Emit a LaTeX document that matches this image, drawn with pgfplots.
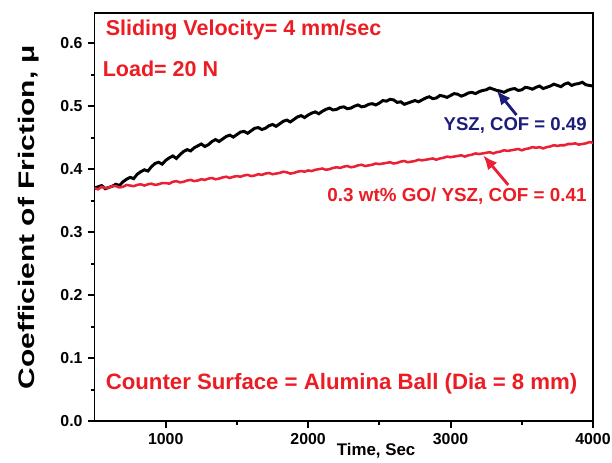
\documentclass[border=0pt]{standalone}
\usepackage{fontspec}
\setmainfont{Liberation Sans}
\usepackage{pgfplots}
\pgfplotsset{compat=1.18}
\usepackage{pgfplotstable}
\usetikzlibrary{arrows.meta}

\definecolor{txtred}{RGB}{236,28,36}
\definecolor{curvered}{RGB}{234,32,52}
\definecolor{navy}{RGB}{28,28,122}

% friction curves, time in s
\pgfplotstableread{
t mu
500 0.370
525 0.372
550 0.374
575 0.369
600 0.371
625 0.373
650 0.376
675 0.374
700 0.380
725 0.384
750 0.387
775 0.385
800 0.392
825 0.396
850 0.399
875 0.397
900 0.404
925 0.409
950 0.411
975 0.408
1000 0.414
1025 0.418
1050 0.421
1075 0.417
1100 0.423
1125 0.428
1150 0.431
1175 0.429
1200 0.434
1225 0.437
1250 0.440
1275 0.436
1300 0.439
1325 0.444
1350 0.447
1375 0.444
1400 0.448
1425 0.452
1450 0.454
1475 0.451
1500 0.455
1525 0.459
1550 0.460
1575 0.457
1600 0.461
1625 0.465
1650 0.466
1675 0.463
1700 0.465
1725 0.469
1750 0.471
1775 0.468
1800 0.472
1825 0.476
1850 0.478
1875 0.475
1900 0.479
1925 0.483
1950 0.485
1975 0.482
2000 0.486
2025 0.489
2050 0.491
2075 0.488
2100 0.492
2125 0.495
2150 0.497
2175 0.494
2200 0.495
2225 0.498
2250 0.499
2275 0.496
2300 0.497
2325 0.500
2350 0.502
2375 0.499
2400 0.500
2425 0.503
2450 0.504
2475 0.502
2500 0.505
2525 0.509
2550 0.508
2575 0.511
2600 0.510
2625 0.506
2650 0.507
2675 0.503
2700 0.505
2725 0.507
2750 0.509
2775 0.507
2800 0.510
2825 0.513
2850 0.515
2875 0.512
2900 0.513
2925 0.517
2950 0.516
2975 0.514
3000 0.517
3025 0.520
3050 0.519
3075 0.516
3100 0.518
3125 0.521
3150 0.522
3175 0.520
3200 0.523
3225 0.525
3250 0.526
3275 0.529
3300 0.527
3325 0.525
3350 0.524
3375 0.522
3400 0.525
3425 0.527
3450 0.528
3475 0.525
3500 0.526
3525 0.530
3550 0.529
3575 0.527
3600 0.530
3625 0.532
3650 0.528
3675 0.530
3700 0.532
3725 0.535
3750 0.533
3775 0.531
3800 0.535
3825 0.537
3850 0.533
3875 0.535
3900 0.536
3925 0.538
3950 0.534
3975 0.533
4000 0.532
}\ysz

\pgfplotstableread{
t mu
500 0.370
525 0.368
550 0.372
575 0.370
600 0.371
625 0.373
650 0.373
675 0.371
700 0.372
725 0.375
750 0.374
775 0.373
800 0.375
825 0.376
850 0.374
875 0.376
900 0.377
925 0.375
950 0.376
975 0.378
1000 0.378
1025 0.377
1050 0.380
1075 0.381
1100 0.379
1125 0.380
1150 0.382
1175 0.383
1200 0.381
1225 0.382
1250 0.384
1275 0.383
1300 0.385
1325 0.386
1350 0.384
1375 0.385
1400 0.387
1425 0.388
1450 0.386
1475 0.388
1500 0.389
1525 0.388
1550 0.390
1575 0.391
1600 0.389
1625 0.390
1650 0.392
1675 0.391
1700 0.393
1725 0.394
1750 0.392
1775 0.393
1800 0.394
1825 0.396
1850 0.395
1875 0.393
1900 0.394
1925 0.396
1950 0.397
1975 0.396
2000 0.398
2025 0.397
2050 0.399
2075 0.400
2100 0.401
2125 0.399
2150 0.400
2175 0.402
2200 0.403
2225 0.402
2250 0.404
2275 0.405
2300 0.403
2325 0.404
2350 0.406
2375 0.407
2400 0.405
2425 0.406
2450 0.407
2475 0.409
2500 0.408
2525 0.409
2550 0.410
2575 0.411
2600 0.409
2625 0.410
2650 0.412
2675 0.413
2700 0.411
2725 0.412
2750 0.413
2775 0.415
2800 0.414
2825 0.415
2850 0.416
2875 0.417
2900 0.415
2925 0.417
2950 0.418
2975 0.420
3000 0.419
3025 0.420
3050 0.421
3075 0.422
3100 0.420
3125 0.422
3150 0.423
3175 0.425
3200 0.424
3225 0.425
3250 0.426
3275 0.427
3300 0.425
3325 0.427
3350 0.428
3375 0.430
3400 0.429
3425 0.430
3450 0.431
3475 0.432
3500 0.430
3525 0.432
3550 0.433
3575 0.435
3600 0.434
3625 0.435
3650 0.433
3675 0.435
3700 0.436
3725 0.438
3750 0.437
3775 0.438
3800 0.438
3825 0.440
3850 0.440
3875 0.441
3900 0.439
3925 0.440
3950 0.441
3975 0.443
4000 0.442
}\goysz

\begin{document}
\begin{tikzpicture}
\begin{axis}[
    name=ax,
    scale only axis,
    width=12.46cm, height=10.2cm,
    xmin=500, xmax=4000,
    ymin=0, ymax=0.648,
    xtick={1000,2000,3000,4000},
    ytick={0,0.1,...,0.6},
    minor x tick num=1,
    minor y tick num=1,
    tick align=outside,
    xtick pos=bottom, ytick pos=left,
    major tick length=0.175cm,
    minor tick length=0.1cm,
    axis line style={line width=1.4pt},
    every tick/.style={black, line width=1.4pt},
    tick label style={font=\fontsize{11.3}{13}\selectfont\bfseries},
    /pgf/number format/assume math mode=true,
    yticklabel style={/pgf/number format/.cd, fixed, fixed zerofill, precision=1},
    xticklabel style={/pgf/number format/1000 sep={}},
    xlabel={\fontsize{12}{14}\selectfont\bfseries Time, Sec},
    xlabel style={at={(ticklabel cs:0.565)}, anchor=north, yshift=5pt, inner sep=1pt},
    ylabel={\fontsize{16}{18}\selectfont\bfseries\scalebox{1.33}[1]{Coefficient of Friction, μ}},
    ylabel style={yshift=8pt},
]
\addplot[black, line width=2.1pt] table[x=t, y=mu] {\ysz};
\addplot[curvered, line width=1.8pt] table[x=t, y=mu] {\goysz};

\node[anchor=west, text=txtred, font=\fontsize{15.3}{17}\selectfont\bfseries, inner sep=0pt] at (axis cs:577,0.6206) {Sliding Velocity= 4 mm/sec};
\node[anchor=west, text=txtred, font=\fontsize{15.3}{17}\selectfont\bfseries, inner sep=0pt] at (axis cs:556,0.560) {Load= 20 N};
\node[anchor=west, text=txtred, font=\fontsize{15.8}{17}\selectfont\bfseries, inner sep=0pt] at (axis cs:577,0.0587) {Counter Surface = Alumina Ball (Dia = 8 mm)};
\node[anchor=east, text=navy, font=\fontsize{13.2}{15}\selectfont\bfseries, inner sep=0pt] at (axis cs:3957,0.470) {YSZ, COF = 0.49};
\node[anchor=east, text=txtred, font=\fontsize{13.4}{15}\selectfont\bfseries, inner sep=0pt] at (axis cs:3957,0.357) {0.3 wt\% GO/ YSZ, COF = 0.41};

\draw[navy, line width=2pt, -{Latex[length=0.36cm,width=0.3cm]}] (axis cs:3463,0.486) -- (axis cs:3323,0.525);
\draw[curvered, line width=2pt, -{Latex[length=0.36cm,width=0.3cm]}] (axis cs:3405,0.375) -- (axis cs:3229,0.422);
\end{axis}
\pgfresetboundingbox
\path ([shift={(-2.3625cm,-1.025cm)}]ax.south west) rectangle ([shift={(0.475cm,0.325cm)}]ax.north east);
\end{tikzpicture}
\end{document}
